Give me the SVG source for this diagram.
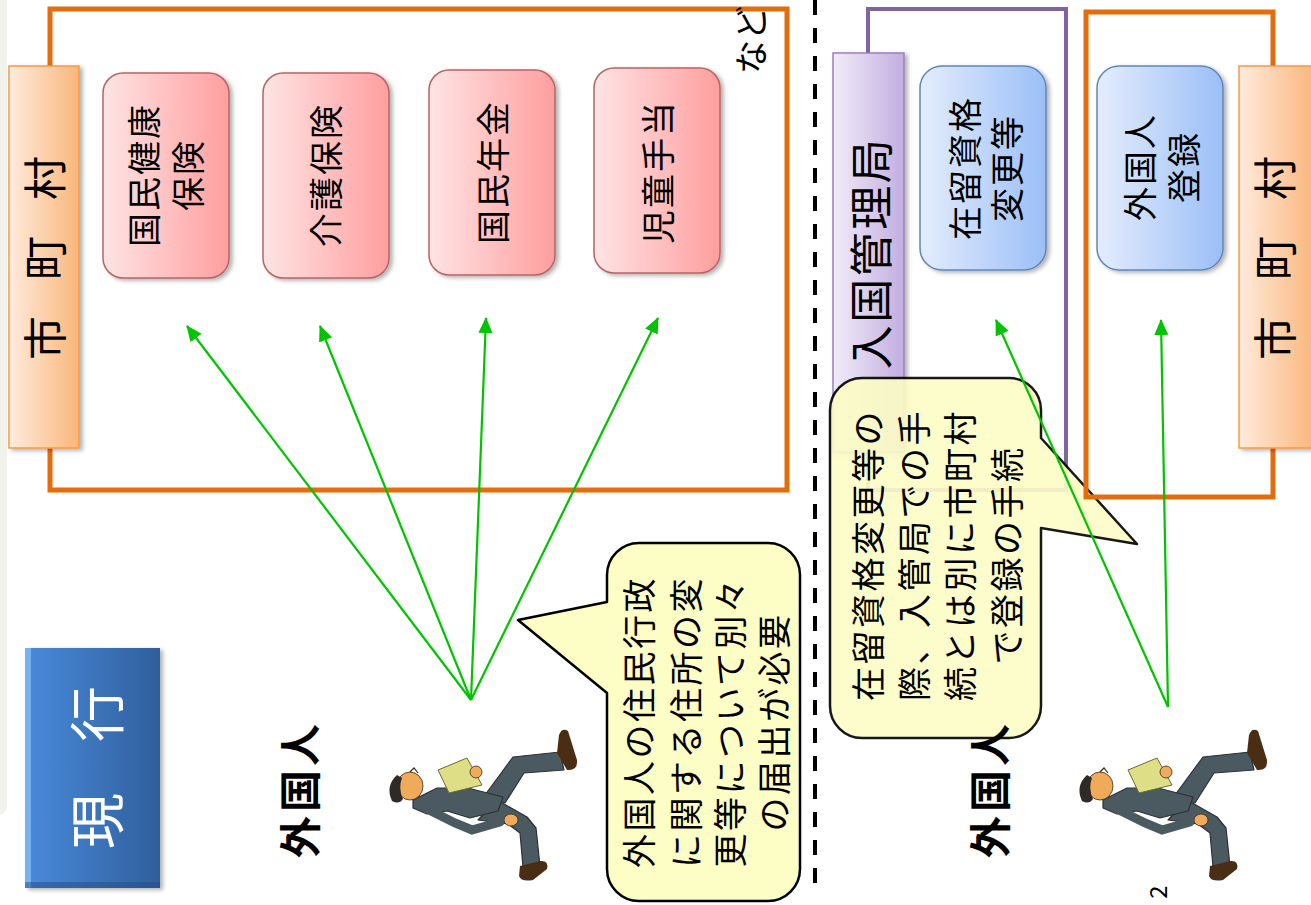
<svg xmlns="http://www.w3.org/2000/svg" width="1311" height="905" viewBox="0 0 1311 905">
  <style>
    .jp { font-family: "Noto Sans CJK JP", "Noto Sans CJK SC", sans-serif; fill: #000; }
    .frame-orange { fill: none; stroke: #E46C0A; stroke-width: 5; }
    .frame-purple { fill: none; stroke: #8064A2; stroke-width: 4; }
    .bar-orange { fill: url(#gOrange); stroke: #F59A4A; stroke-width: 1.5; }
    .bar-purple { fill: url(#gPurple); stroke: #9A80C0; stroke-width: 1.5; }
    .pink { fill: url(#gPink); stroke: #B86464; stroke-width: 1.5; }
    .blue { fill: url(#gBlue); stroke: #5F86BC; stroke-width: 1.5; }
    .bubble { fill: #FDFDC6; stroke: #000; stroke-width: 2.5; stroke-linejoin: round; }
    .arrow { stroke: #00C400; stroke-width: 2.2; fill: none; marker-end: url(#ah); }
    .suit { fill: #4B5A60; stroke: #2A3235; stroke-width: 1.2; stroke-linejoin: round; }
    .shoe { fill: #4A2E14; }
    .skin { fill: #EFAA5A; stroke: #3A2A1A; stroke-width: 0.8; }
  </style>
  <defs>
    <linearGradient id="gOrange" x1="0" y1="0" x2="1" y2="0">
      <stop offset="0" stop-color="#FFEBDD"/>
      <stop offset="1" stop-color="#FAB67A"/>
    </linearGradient>
    <linearGradient id="gPurple" x1="0" y1="0" x2="1" y2="0">
      <stop offset="0" stop-color="#F1ECF8"/>
      <stop offset="1" stop-color="#C3AEE0"/>
    </linearGradient>
    <linearGradient id="gPink" x1="0" y1="0" x2="1" y2="0">
      <stop offset="0" stop-color="#FFE4E4"/>
      <stop offset="1" stop-color="#FF9E9E"/>
    </linearGradient>
    <linearGradient id="gBlue" x1="0" y1="0" x2="1" y2="0">
      <stop offset="0" stop-color="#E4EDFD"/>
      <stop offset="1" stop-color="#9BBFF7"/>
    </linearGradient>
    <linearGradient id="gHead" x1="0" y1="0" x2="1" y2="0">
      <stop offset="0" stop-color="#4A8ADC"/>
      <stop offset="1" stop-color="#2F5F9C"/>
    </linearGradient>
    <filter id="shadow" x="-10%" y="-10%" width="125%" height="125%">
      <feDropShadow dx="3" dy="2" stdDeviation="2" flood-color="#000" flood-opacity="0.3"/>
    </filter>
    <marker id="ah" markerUnits="userSpaceOnUse" markerWidth="16" markerHeight="16" viewBox="0 0 16 16" refX="15" refY="8" orient="auto">
      <path d="M0,1 L16,8 L0,15 Z" fill="#00C400"/>
    </marker>
    <!-- running figure carrying a sheet of paper -->
    <g id="walker">
      <polygon class="suit" points="485,795 513,757 560,752 564,770 524,773 505,803"/>
      <path class="shoe" d="M557,753 L559,735 Q562,727 568,731 L577,760 Q578,771 567,770 Z"/>
      <polygon class="suit" points="497,800 527,817 536,828 540,866 523,867 520,833 508,824 478,820"/>
      <path class="shoe" d="M520,866 L540,861 Q549,860 547,869 L533,880 Q521,882 519,876 Z"/>
      <polygon class="suit" points="413,800 437,788 468,788 503,797 498,811 470,818 447,811 427,814 413,808"/>
      <ellipse class="skin" cx="511" cy="820" rx="7" ry="6"/>
      <path d="M425,808 L455,823 L472,830 L500,822" stroke="#4B5A60" stroke-width="9" stroke-linecap="round" fill="none"/>
      <polygon points="438,770 467,758 482,785 449,793" fill="#DEDE86" stroke="#6B6B30" stroke-width="1"/>
      <ellipse class="skin" cx="476" cy="772" rx="6" ry="6"/>
      <ellipse class="skin" cx="410" cy="786" rx="13" ry="14"/>
      <path d="M397,775 Q385,786 392,801 Q399,805 403,799 Q398,788 402,778 Z" fill="#2E2A28"/>
      <path d="M410,772 L414,768 L418,773" stroke="#3A2A1A" stroke-width="1.2" fill="none"/>
    </g>
  </defs>

  <!-- page edge strip -->
  <rect x="-10" y="-10" width="17" height="825" rx="9" fill="#F2F2ED"/>

  <!-- dashed divider -->
  <line x1="815" y1="0" x2="815" y2="887" stroke="#000" stroke-width="4" stroke-dasharray="15 13"/>

  <!-- ===== left half ===== -->
  <g id="muni-left-frame">
    <rect class="frame-orange" x="50" y="9" width="737" height="481"/>
    <text class="jp" font-size="34" text-anchor="middle" dominant-baseline="central" transform="translate(749,40) rotate(-90)">など</text>
  </g>

  <g id="muni-left">
    <rect class="bar-orange" x="9" y="66" width="70" height="382" filter="url(#shadow)"/>
    <text class="jp" font-size="44" text-anchor="middle" dominant-baseline="central" transform="translate(43,258) rotate(-90)" x="-80 0 80">市町村</text>
  </g>

  <g id="kokuho">
    <rect class="pink" x="103" y="73" width="126" height="205" rx="20" filter="url(#shadow)"/>
    <g transform="translate(164,175) rotate(-90)">
      <text class="jp" font-size="34" letter-spacing="2" text-anchor="middle" dominant-baseline="central" y="-22">国民健康</text>
      <text class="jp" font-size="34" letter-spacing="2" text-anchor="middle" dominant-baseline="central" y="22">保険</text>
    </g>
  </g>
  <g id="kaigo">
    <rect class="pink" x="263" y="73" width="126" height="205" rx="20" filter="url(#shadow)"/>
    <text class="jp" font-size="34" letter-spacing="2" text-anchor="middle" dominant-baseline="central" transform="translate(324,175) rotate(-90)">介護保険</text>
  </g>
  <g id="nenkin">
    <rect class="pink" x="429" y="70" width="126" height="205" rx="20" filter="url(#shadow)"/>
    <text class="jp" font-size="34" letter-spacing="2" text-anchor="middle" dominant-baseline="central" transform="translate(491,172) rotate(-90)">国民年金</text>
  </g>
  <g id="jido">
    <rect class="pink" x="594" y="68" width="126" height="205" rx="20" filter="url(#shadow)"/>
    <text class="jp" font-size="34" letter-spacing="2" text-anchor="middle" dominant-baseline="central" transform="translate(656,172) rotate(-90)">児童手当</text>
  </g>

  <g id="genkou">
    <rect x="25" y="648" width="135" height="240" fill="url(#gHead)" filter="url(#shadow)"/>
    <rect x="25" y="648" width="6" height="240" fill="#86BDF6" opacity="0.8"/>
    <rect x="25" y="882" width="135" height="6" fill="#244C80" opacity="0.5"/>
    <text class="jp" font-size="56" text-anchor="middle" dominant-baseline="central" transform="translate(93,767) rotate(-90)" x="-54 53" style="fill:#fff">現行</text>
  </g>

  <g id="connectors-left">
    <line class="arrow" x1="471" y1="700" x2="187" y2="326"/>
    <line class="arrow" x1="471" y1="700" x2="320" y2="326"/>
    <line class="arrow" x1="471" y1="700" x2="486" y2="318"/>
    <line class="arrow" x1="471" y1="700" x2="658" y2="318"/>
  </g>

  <g id="note-left">
    <path class="bubble" d="M639,543 H768 A32,32 0 0 1 800,575 V869 A32,32 0 0 1 768,901 H639 A32,32 0 0 1 607,869 V693 L518,620 L607,602 V575 A32,32 0 0 1 639,543 Z"/>
    <g transform="translate(0,722) rotate(-90)">
      <text class="jp" font-size="34" letter-spacing="2.5" text-anchor="middle" dominant-baseline="central" y="637">外国人の住民行政</text>
      <text class="jp" font-size="34" letter-spacing="2.5" text-anchor="middle" dominant-baseline="central" y="684">に関する住所の変</text>
      <text class="jp" font-size="34" letter-spacing="2.5" text-anchor="middle" dominant-baseline="central" y="728">更等について別々</text>
      <text class="jp" font-size="34" letter-spacing="2.5" text-anchor="middle" dominant-baseline="central" y="772">の届出が必要</text>
    </g>
  </g>

  <g id="person-left">
    <text class="jp" font-size="42" font-weight="bold" letter-spacing="4" text-anchor="middle" dominant-baseline="central" transform="translate(297,789) rotate(-90)">外国人</text>
    <use href="#walker"/>
  </g>

  <!-- ===== right half ===== -->
  <g id="immigration-frame">
    <rect class="frame-purple" x="868" y="9" width="198" height="481"/>
  </g>
  <g id="immigration">
    <rect class="bar-purple" x="833" y="53" width="71" height="399" filter="url(#shadow)"/>
    <text class="jp" font-size="44" letter-spacing="2.5" text-anchor="middle" dominant-baseline="central" transform="translate(869,253) rotate(-90)">入国管理局</text>
  </g>
  <g id="status-change">
    <rect class="blue" x="920" y="66" width="126" height="204" rx="22" filter="url(#shadow)"/>
    <g transform="translate(984,168) rotate(-90)">
      <text class="jp" font-size="34" letter-spacing="2" text-anchor="middle" dominant-baseline="central" y="-21">在留資格</text>
      <text class="jp" font-size="34" letter-spacing="2" text-anchor="middle" dominant-baseline="central" y="21">変更等</text>
    </g>
  </g>

  <g id="note-right">
    <path class="bubble" opacity="0.9" d="M862,378 H1009 A32,32 0 0 1 1041,410 V438 L1137,544 L1041,528 V706 A32,32 0 0 1 1009,738 H862 A32,32 0 0 1 830,706 V410 A32,32 0 0 1 862,378 Z"/>
    <g transform="translate(0,555) rotate(-90)">
      <text class="jp" font-size="34" letter-spacing="2.5" text-anchor="middle" dominant-baseline="central" y="866">在留資格変更等の</text>
      <text class="jp" font-size="34" letter-spacing="2.5" text-anchor="middle" dominant-baseline="central" y="912">際、入管局での手</text>
      <text class="jp" font-size="34" letter-spacing="2.5" text-anchor="middle" dominant-baseline="central" y="958">続とは別に市町村</text>
      <text class="jp" font-size="34" letter-spacing="2.5" text-anchor="middle" dominant-baseline="central" y="1005">で登録の手続</text>
    </g>
  </g>

  <g id="muni-right-frame">
    <rect class="frame-orange" x="1086" y="12" width="187" height="485"/>
  </g>
  <g id="muni-right">
    <rect class="bar-orange" x="1239" y="66" width="76" height="382" filter="url(#shadow)"/>
    <text class="jp" font-size="44" text-anchor="middle" dominant-baseline="central" transform="translate(1273,258) rotate(-90)" x="-80 0 80">市町村</text>
  </g>
  <g id="registration">
    <rect class="blue" x="1097" y="66" width="126" height="204" rx="22" filter="url(#shadow)"/>
    <g transform="translate(1160,167) rotate(-90)">
      <text class="jp" font-size="34" letter-spacing="2" text-anchor="middle" dominant-baseline="central" y="-22">外国人</text>
      <text class="jp" font-size="34" letter-spacing="2" text-anchor="middle" dominant-baseline="central" y="22">登録</text>
    </g>
  </g>

  <g id="connectors-right">
    <line class="arrow" x1="1168" y1="707" x2="996" y2="320"/>
    <line class="arrow" x1="1168" y1="707" x2="1161" y2="320"/>
  </g>

  <g id="person-right">
    <text class="jp" font-size="42" font-weight="bold" letter-spacing="4" text-anchor="middle" dominant-baseline="central" transform="translate(987,789) rotate(-90)">外国人</text>
    <use href="#walker" transform="translate(690,0)"/>
  </g>

  <!-- page number -->
  <text class="jp" font-size="24" text-anchor="middle" dominant-baseline="central" transform="translate(1156,892) rotate(-90)">2</text>
</svg>
